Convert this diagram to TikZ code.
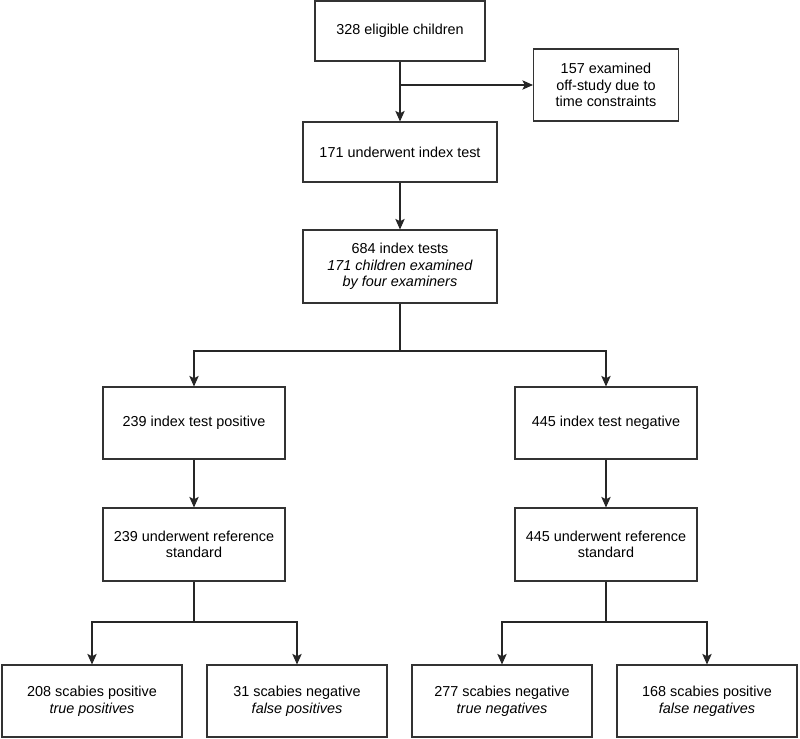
\documentclass[tikz,border=0pt]{standalone}
\usepackage{fontspec}
\setmainfont{Liberation Sans}
\usetikzlibrary{arrows.meta, calc}

\begin{document}
\begin{tikzpicture}[
    x = 0.03cm, y = -0.03cm,
    every node/.style = {font = \fontsize{12.3}{14.2}\selectfont},
    box/.style        = {draw = black!80, line width = 0.9pt, fill = white, align = center, minimum width = 5.46cm, minimum height = 2.16cm},
    arr/.style        = {-{Stealth[length=9pt, width=8pt, inset=2pt]}, line width = 0.9pt, draw = black!85},
    line/.style       = {line width = 0.9pt, draw = black!85},
]
\useasboundingbox (0,0) rectangle (800,739);

% ---------- enrolment ----------
\node[box, minimum width = 5.1cm, minimum height = 1.8cm]  (eligible)  at (400, 31)    {328 eligible children};
\node[box, minimum width = 4.35cm]                         (offstudy)  at (606, 85)    {157 examined\\off-study due to\\time constraints};
\node[box, minimum width = 5.82cm, minimum height = 1.8cm] (underwent) at (400, 152)   {171 underwent index test};
\node[box, minimum width = 5.82cm, minimum height = 2.19cm] (idxtests) at (400, 266.5) {684 index tests\\\textit{171 children examined}\\\textit{by four examiners}};

% ---------- index test result ----------
\node[box] (idxpos) at (194, 423) {239 index test positive};
\node[box] (idxneg) at (606, 423) {445 index test negative};

\node[box, minimum height = 2.19cm] (refpos) at (194, 544.5) {239 underwent reference\\standard};
\node[box, minimum height = 2.19cm] (refneg) at (606, 544.5) {445 underwent reference\\standard};

% ---------- reference standard result ----------
\node[box, minimum width = 5.4cm] (tp) at (92, 701)  {208 scabies positive\\\textit{true positives}};
\node[box, minimum width = 5.4cm] (fp) at (297, 701) {31 scabies negative\\\textit{false positives}};
\node[box, minimum width = 5.4cm] (tn) at (502, 701) {277 scabies negative\\\textit{true negatives}};
\node[box, minimum width = 5.4cm] (fn) at (707, 701) {168 scabies positive\\\textit{false negatives}};

% ---------- split points ----------
\coordinate (split1) at (eligible.south |- offstudy.west);
\coordinate (split2) at (400, 351);
\coordinate (split3) at (194, 622);
\coordinate (split4) at (606, 622);

% ---------- connectors ----------
\draw[arr] (eligible) -- (underwent);
\draw[arr] (split1) -- (offstudy.west);
\draw[arr] (underwent) -- (idxtests);

\draw[line] (idxtests.south) -- (split2);
\draw[arr] (split2) -| (idxpos.north);
\draw[arr] (split2) -| (idxneg.north);

\draw[arr] (idxpos) -- (refpos);
\draw[arr] (idxneg) -- (refneg);

\draw[line] (refpos.south) -- (split3);
\draw[arr] (split3) -| (tp.north);
\draw[arr] (split3) -| (fp.north);

\draw[line] (refneg.south) -- (split4);
\draw[arr] (split4) -| (tn.north);
\draw[arr] (split4) -| (fn.north);

\end{tikzpicture}
\end{document}
